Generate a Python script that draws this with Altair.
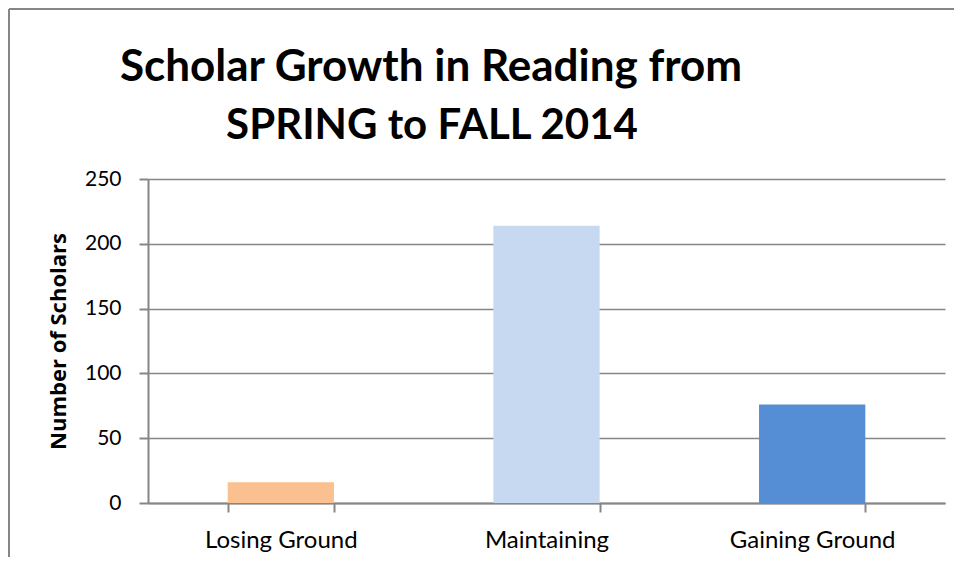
import altair as alt
import pandas as pd

categories = ["Losing Ground", "Maintaining", "Gaining Ground"]
values = [16, 214, 76]
colors = ["#FAC090", "#C6D9F1", "#558ED5"]
y_ticks = [0, 50, 100, 150, 200, 250]
title_lines = ["Scholar Growth in Reading from", "SPRING to FALL 2014"]

df = pd.DataFrame({"category": categories, "value": values, "color": colors})

FONT = "Lato"
GRID = "#868686"

bars = alt.Chart(df).mark_bar().encode(
    x=alt.X(
        "category:N",
        sort=categories,
        scale=alt.Scale(paddingInner=0.6, paddingOuter=0.3),
        axis=alt.Axis(
            title=None, labelAngle=0, tickBand="extent", ticks=True, tickSize=9,
            tickColor=GRID, tickWidth=2, domainColor=GRID, domainWidth=2,
            labelFont=FONT, labelFontSize=24, labelColor="#000000", labelPadding=16,
            grid=False,
        ),
    ),
    y=alt.Y(
        "value:Q",
        scale=alt.Scale(domain=[0, 250], nice=False),
        axis=alt.Axis(
            values=y_ticks, title="Number of Scholars", titleFont="Open Sans", titleFontSize=22,
            titleFontWeight="bold", titleColor="#000000", titleX=-90, titleBaseline="middle",
            titleAlign="center", titleAngle=-90,
            labelFont=FONT, labelFontSize=21, labelColor="#000000", labelPadding=18,
            tickSize=9, tickColor=GRID, tickWidth=2, domainColor=GRID, domainWidth=2,
            grid=True, gridColor=GRID, gridWidth=1.6,
        ),
    ),
    color=alt.Color("color:N", scale=None),
)

title1 = alt.Chart(alt.Data(values=[{"t": title_lines[0]}])).mark_text(
    font=FONT, fontSize=44, fontWeight="bold", color="#000000", align="center", baseline="alphabetic"
).encode(text="t:N", x=alt.value(283), y=alt.value(-98))
title2 = alt.Chart(alt.Data(values=[{"t": title_lines[1]}])).mark_text(
    font=FONT, fontSize=42, fontWeight="bold", color="#000000", align="center", baseline="alphabetic"
).encode(text="t:N", x=alt.value(284), y=alt.value(-40))

frame_top = alt.Chart(alt.Data(values=[{}])).mark_rule(color=GRID, strokeWidth=2).encode(
    x=alt.value(-139), x2=alt.value(810), y=alt.value(-170)
)
frame_left = alt.Chart(alt.Data(values=[{}])).mark_rule(color=GRID, strokeWidth=2).encode(
    x=alt.value(-139), y=alt.value(-170), y2=alt.value(380)
)

chart = alt.layer(bars, title1, title2, frame_top, frame_left).properties(
    width=797,
    height=324,
    autosize=alt.AutoSizeParams(type="none"),
    padding={"left": 140, "top": 171, "right": 9, "bottom": 54},
).configure_view(stroke=None)

chart.save("out.html", embed_options={"renderer": "svg", "actions": False})
